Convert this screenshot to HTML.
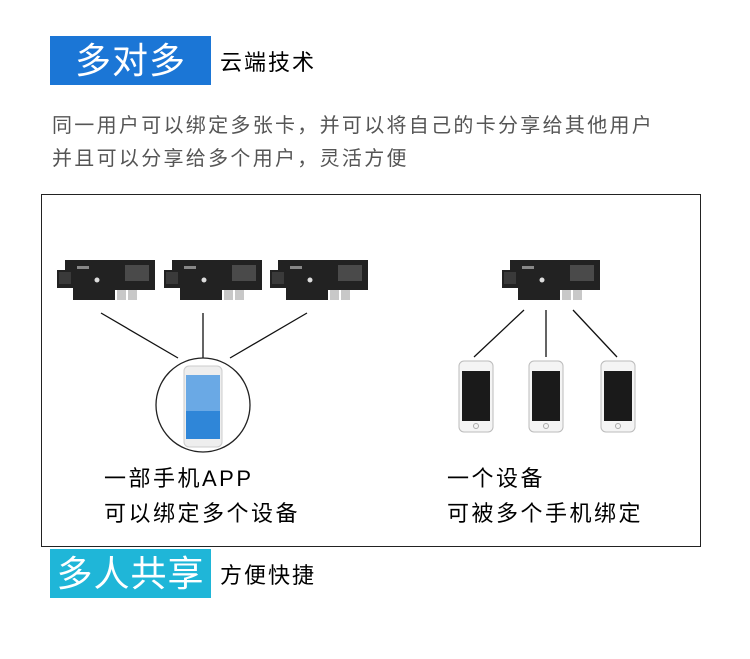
<!DOCTYPE html>
<html><head><meta charset="utf-8"><style>
body{margin:0;width:750px;height:659px;background:#fff;position:relative;overflow:hidden;font-family:"Liberation Sans","Noto Sans CJK SC",sans-serif}
.a{position:absolute;white-space:nowrap}
.box{position:absolute;left:50px;width:161px;height:49px;color:#fff;font-size:36px;line-height:49px;text-align:center;letter-spacing:1px}
</style></head><body>
<div class="box" style="top:36px;background:#1b76d6">多对多</div>
<div class="a" style="left:220px;top:48px;font-size:22px;line-height:30px;letter-spacing:2px">云端技术</div>
<div class="a" style="left:52px;top:110px;font-size:20px;line-height:33px;color:#555;letter-spacing:2.3px">同一用户可以绑定多张卡，并可以将自己的卡分享给其他用户<br>并且可以分享给多个用户，灵活方便</div>
<div class="a" style="left:41px;top:194px;width:658px;height:351px;border:1px solid #222"></div>
<svg class="a" style="left:0;top:0" width="750" height="659">
<defs>
<g id="card">
<polygon points="10,0 100,0 100,30 60,30 60,40 18,40 18,28 2,28 2,10 10,10" fill="#222"/>
<rect x="4" y="12" width="12" height="12" fill="#3a3a3a"/>
<rect x="62" y="30" width="9" height="10" fill="#c8c8c8"/><rect x="73" y="30" width="9" height="10" fill="#c8c8c8"/>
<rect x="70" y="5" width="24" height="16" fill="#4a4a4a"/>
<circle cx="42" cy="20" r="2.5" fill="#ddd"/>
<rect x="22" y="6" width="12" height="3" fill="#888"/>
</g>
<g id="ip">
<rect x="0" y="0" width="34" height="71" rx="5" fill="#f4f4f4" stroke="#bbb"/>
<rect x="3" y="10" width="28" height="50" fill="#1a1a1a"/>
<circle cx="17" cy="65" r="2.5" fill="none" stroke="#aaa"/>
</g>
</defs>
<use href="#card" x="55" y="260"/><use href="#card" x="162" y="260"/><use href="#card" x="268" y="260"/>
<use href="#card" x="500" y="260"/>
<g stroke="#111" stroke-width="1.3">
<line x1="101" y1="313" x2="178" y2="358"/><line x1="203" y1="313" x2="203" y2="358"/><line x1="307" y1="313" x2="230" y2="358"/>
<line x1="524" y1="310" x2="474" y2="357"/><line x1="546" y1="310" x2="546" y2="357"/><line x1="573" y1="310" x2="617" y2="357"/>
</g>
<circle cx="203" cy="405" r="47" fill="#fff" stroke="#222" stroke-width="1.3"/>
<rect x="184" y="366" width="38" height="81" rx="5" fill="#eee" stroke="#ccc"/>
<rect x="186" y="375" width="34" height="64" fill="#2f86d8"/>
<rect x="186" y="375" width="34" height="36" fill="#6aa9e5"/>
<use href="#ip" x="459" y="361"/><use href="#ip" x="529" y="361"/><use href="#ip" x="601" y="361"/>
</svg>
<div class="a" style="left:104px;top:461px;font-size:22px;line-height:35px;letter-spacing:2.5px">一部手机APP<br>可以绑定多个设备</div>
<div class="a" style="left:447px;top:461px;font-size:22px;line-height:35px;letter-spacing:2.5px">一个设备<br>可被多个手机绑定</div>
<div class="box" style="top:549px;background:#1fb6d8">多人共享</div>
<div class="a" style="left:220px;top:561px;font-size:22px;line-height:30px;letter-spacing:2px">方便快捷</div>
</body></html>
